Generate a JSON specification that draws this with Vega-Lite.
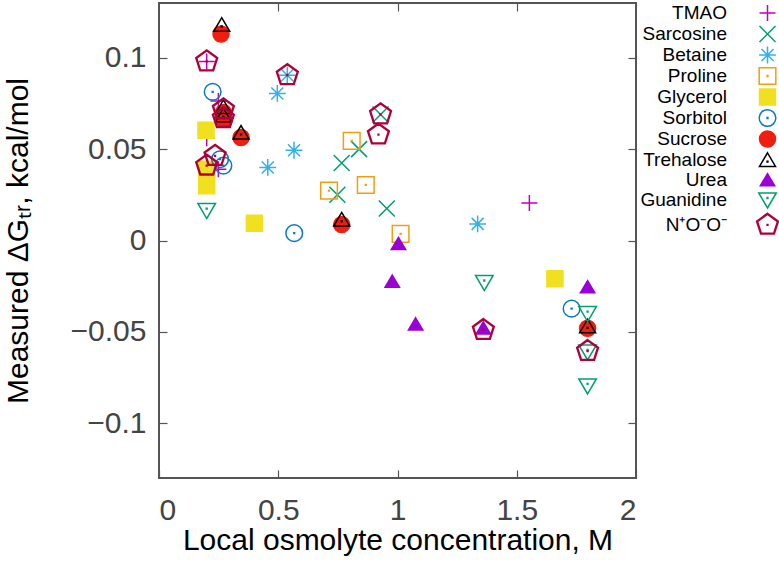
{
  "$schema": "https://vega.github.io/schema/vega-lite/v6.json",
  "width": 477,
  "height": 475,
  "autosize": {"type": "none"},
  "padding": {"left": 159, "top": 3, "right": 143, "bottom": 98},
  "config": {
    "font": "Liberation Sans",
    "view": {"stroke": "#555555", "strokeWidth": 2},
    "axis": {
      "grid": false,
      "domain": false,
      "tickSize": -8,
      "tickColor": "#555555",
      "tickWidth": 1.2,
      "labelFont": "Liberation Sans",
      "labelFontSize": 30,
      "labelColor": "#444444",
      "titleFont": "Liberation Sans",
      "titleFontSize": 30,
      "titleFontWeight": "normal",
      "titleColor": "#000000",
      "format": "~g"
    },
    "legend": {
      "orient": "none",
      "legendX": 599,
      "legendY": 0.5,
      "padding": 0,
      "rowPadding": -2.2,
      "labelAlign": "right",
      "labelFont": "Liberation Sans",
      "labelFontSize": 19,
      "labelColor": "#000000",
      "labelLimit": 200,
      "labelOffset": -50,
      "symbolSize": 256,
      "symbolStrokeWidth": 1.5
    }
  },
  "data": {
    "values": [
      {"osmolyte": "TMAO", "conc": 0.2, "dg": 0.098},
      {"osmolyte": "TMAO", "conc": 0.249, "dg": 0.0763},
      {"osmolyte": "TMAO", "conc": 0.2, "dg": 0.056},
      {"osmolyte": "TMAO", "conc": 0.249, "dg": 0.039},
      {"osmolyte": "TMAO", "conc": 1.553, "dg": 0.0205},
      {"osmolyte": "Sarcosine", "conc": 0.929, "dg": 0.069},
      {"osmolyte": "Sarcosine", "conc": 0.839, "dg": 0.05},
      {"osmolyte": "Sarcosine", "conc": 0.766, "dg": 0.0424},
      {"osmolyte": "Sarcosine", "conc": 0.748, "dg": 0.025},
      {"osmolyte": "Sarcosine", "conc": 0.955, "dg": 0.0175},
      {"osmolyte": "Betaine", "conc": 0.538, "dg": 0.0905},
      {"osmolyte": "Betaine", "conc": 0.496, "dg": 0.0805},
      {"osmolyte": "Betaine", "conc": 0.566, "dg": 0.0494},
      {"osmolyte": "Betaine", "conc": 0.456, "dg": 0.04},
      {"osmolyte": "Betaine", "conc": 1.336, "dg": 0.0091},
      {"osmolyte": "Proline", "conc": 0.808, "dg": 0.0545},
      {"osmolyte": "Proline", "conc": 0.867, "dg": 0.0304},
      {"osmolyte": "Proline", "conc": 0.713, "dg": 0.0273},
      {"osmolyte": "Proline", "conc": 1.013, "dg": 0.0036},
      {"osmolyte": "Glycerol", "conc": 0.197, "dg": 0.0604},
      {"osmolyte": "Glycerol", "conc": 0.2, "dg": 0.039},
      {"osmolyte": "Glycerol", "conc": 0.2, "dg": 0.03},
      {"osmolyte": "Glycerol", "conc": 0.4, "dg": 0.0094},
      {"osmolyte": "Glycerol", "conc": 1.66, "dg": -0.0209},
      {"osmolyte": "Sorbitol", "conc": 0.225, "dg": 0.0814},
      {"osmolyte": "Sorbitol", "conc": 0.256, "dg": 0.0445},
      {"osmolyte": "Sorbitol", "conc": 0.27, "dg": 0.041},
      {"osmolyte": "Sorbitol", "conc": 0.567, "dg": 0.004},
      {"osmolyte": "Sorbitol", "conc": 1.73, "dg": -0.0373},
      {"osmolyte": "Sucrose", "conc": 0.26, "dg": 0.113},
      {"osmolyte": "Sucrose", "conc": 0.27, "dg": 0.07},
      {"osmolyte": "Sucrose", "conc": 0.27, "dg": 0.0664},
      {"osmolyte": "Sucrose", "conc": 0.344, "dg": 0.0564},
      {"osmolyte": "Sucrose", "conc": 0.766, "dg": 0.0087},
      {"osmolyte": "Sucrose", "conc": 1.797, "dg": -0.048},
      {"osmolyte": "Trehalose", "conc": 0.263, "dg": 0.118},
      {"osmolyte": "Trehalose", "conc": 0.27, "dg": 0.073},
      {"osmolyte": "Trehalose", "conc": 0.27, "dg": 0.0685},
      {"osmolyte": "Trehalose", "conc": 0.344, "dg": 0.059},
      {"osmolyte": "Trehalose", "conc": 0.766, "dg": 0.0114},
      {"osmolyte": "Trehalose", "conc": 1.797, "dg": -0.047},
      {"osmolyte": "Urea", "conc": 1.004, "dg": -0.0018},
      {"osmolyte": "Urea", "conc": 0.978, "dg": -0.0224},
      {"osmolyte": "Urea", "conc": 1.076, "dg": -0.0458},
      {"osmolyte": "Urea", "conc": 1.36, "dg": -0.048},
      {"osmolyte": "Urea", "conc": 1.797, "dg": -0.0255},
      {"osmolyte": "Guanidine", "conc": 0.2, "dg": 0.0164},
      {"osmolyte": "Guanidine", "conc": 1.364, "dg": -0.023},
      {"osmolyte": "Guanidine", "conc": 1.797, "dg": -0.04},
      {"osmolyte": "Guanidine", "conc": 1.797, "dg": -0.061},
      {"osmolyte": "Guanidine", "conc": 1.797, "dg": -0.0796},
      {"osmolyte": "N⁺O⁻O⁻", "conc": 0.2, "dg": 0.098},
      {"osmolyte": "N⁺O⁻O⁻", "conc": 0.538, "dg": 0.0905},
      {"osmolyte": "N⁺O⁻O⁻", "conc": 0.27, "dg": 0.0718},
      {"osmolyte": "N⁺O⁻O⁻", "conc": 0.27, "dg": 0.067},
      {"osmolyte": "N⁺O⁻O⁻", "conc": 0.235, "dg": 0.0463},
      {"osmolyte": "N⁺O⁻O⁻", "conc": 0.2, "dg": 0.041},
      {"osmolyte": "N⁺O⁻O⁻", "conc": 0.929, "dg": 0.069},
      {"osmolyte": "N⁺O⁻O⁻", "conc": 0.92, "dg": 0.058},
      {"osmolyte": "N⁺O⁻O⁻", "conc": 1.36, "dg": -0.049},
      {"osmolyte": "N⁺O⁻O⁻", "conc": 1.797, "dg": -0.0605}
    ]
  },
  "resolve": {"axis": {"x": "independent", "y": "independent"}},
  "layer": [
    {
      "mark": {"type": "point", "filled": false, "opacity": 1, "size": 256, "strokeWidth": 1.5},
      "encoding": {
        "x": {
          "field": "conc",
          "type": "quantitative",
          "scale": {"domain": [0, 2], "nice": false},
          "axis": {
            "orient": "bottom",
            "values": [0, 0.5, 1, 1.5, 2],
            "title": "Local osmolyte concentration, M",
            "labelPadding": 25,
            "titlePadding": 0
          }
        },
        "y": {
          "field": "dg",
          "type": "quantitative",
          "scale": {"domain": [-0.13, 0.13], "nice": false, "zero": false},
          "axis": {
            "orient": "left",
            "values": [-0.1, -0.05, 0, 0.05, 0.1],
            "title": "Measured ΔGₜᵣ, kcal/mol",
            "labelPadding": 21,
            "titlePadding": 37
          }
        },
        "shape": {
          "field": "osmolyte",
          "type": "nominal",
          "legend": {"title": null},
          "scale": {
            "domain": ["TMAO", "Sarcosine", "Betaine", "Proline", "Glycerol", "Sorbitol", "Sucrose", "Trehalose", "Urea", "Guanidine", "N⁺O⁻O⁻"],
            "range": [
              "M-1,0L1,0M0,-1L0,1",
              "M-1,-1L1,1M-1,1L1,-1",
              "M-1.05,0L1.05,0M0,-1.05L0,1.05M-0.75,-0.75L0.75,0.75M-0.75,0.75L0.75,-0.75",
              "M-1.04,-1.04L1.04,-1.04L1.04,1.04L-1.04,1.04ZM-0.05,-0.05L0.05,-0.05L0.05,0.05L-0.05,0.05Z",
              "M-1,-1L1,-1L1,1L-1,1Z",
              "M1.04,0A1.04,1.04,0,1,1,-1.04,0A1.04,1.04,0,1,1,1.04,0ZM-0.05,-0.05L0.05,-0.05L0.05,0.05L-0.05,0.05Z",
              "M1,0A1,1,0,1,1,-1,0A1,1,0,1,1,1,0Z",
              "M0,-0.9L1,0.8L-1,0.8ZM-0.05,0.15L0.05,0.15L0.05,0.25L-0.05,0.25Z",
              "M0,-0.8L0.9,0.72L-0.9,0.72Z",
              "M0,1L1.1,-0.88L-1.1,-0.88ZM-0.05,-0.3L0.05,-0.3L0.05,-0.2L-0.05,-0.2Z",
              "M0,-1.44L1.369,-0.445L0.847,1.165L-0.847,1.165L-1.369,-0.445ZM0,-1.375L1.308,-0.425L0.808,1.112L-0.808,1.112L-1.308,-0.425ZM0,-1.31L1.246,-0.405L0.771,1.06L-0.771,1.06L-1.246,-0.405ZM-0.05,-0.05L0.05,-0.05L0.05,0.05L-0.05,0.05Z"
            ]
          }
        },
        "stroke": {
          "field": "osmolyte",
          "type": "nominal",
          "legend": {"title": null},
          "scale": {
            "domain": ["TMAO", "Sarcosine", "Betaine", "Proline", "Glycerol", "Sorbitol", "Sucrose", "Trehalose", "Urea", "Guanidine", "N⁺O⁻O⁻"],
            "range": ["#c000c0", "#009e73", "#33b0e8", "#eea010", "#f0e020", "#0a78bb", "#f01e10", "#000000", "#9a00d6", "#009e73", "#b0003c"]
          }
        },
        "fill": {
          "field": "osmolyte",
          "type": "nominal",
          "legend": {"title": null},
          "scale": {
            "domain": ["TMAO", "Sarcosine", "Betaine", "Proline", "Glycerol", "Sorbitol", "Sucrose", "Trehalose", "Urea", "Guanidine", "N⁺O⁻O⁻"],
            "range": ["transparent", "transparent", "transparent", "transparent", "#f0e020", "transparent", "#f01e10", "transparent", "#9a00d6", "transparent", "transparent"]
          }
        }
      }
    },
    {
      "mark": {"type": "point", "opacity": 0},
      "encoding": {
        "x": {
          "field": "conc",
          "type": "quantitative",
          "axis": {"orient": "top", "labels": false, "title": null, "values": [0.5, 1, 1.5]}
        },
        "y": {
          "field": "dg",
          "type": "quantitative",
          "axis": {"orient": "right", "labels": false, "title": null, "values": [-0.1, -0.05, 0, 0.05, 0.1]}
        }
      }
    }
  ]
}
